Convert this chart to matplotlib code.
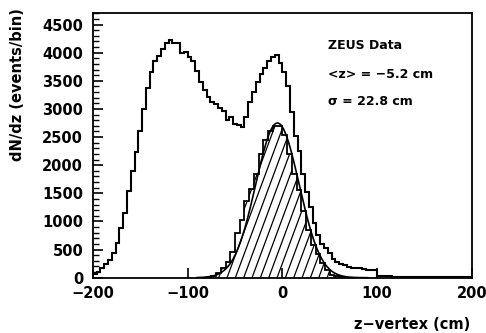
import numpy as np
import matplotlib.pyplot as plt
from matplotlib.ticker import MultipleLocator

# outer histogram: all vertices, 4 cm bins from -200 to 200
all_edges = np.arange(-200, 201, 4)
all_counts = [70, 110, 170, 250, 320, 440, 620, 880, 1150, 1550,
              1900, 2230, 2600, 3000, 3380, 3650, 3860, 3950, 4070, 4170,
              4230, 4180, 4170, 3990, 4010, 3920, 3850, 3680, 3480, 3340,
              3220, 3130, 3080, 3020, 2970, 2800, 2860, 2740, 2710, 2680,
              2850, 3120, 3300, 3480, 3620, 3720, 3850, 3920, 3960, 3820,
              3650, 3400, 2950, 2520, 2250, 1850, 1530, 1250, 980, 760,
              600, 520, 440, 340, 280, 250, 225, 195, 180, 170,
              165, 150, 140, 135, 130, 30, 26, 24, 22, 20,
              18, 17, 16, 15, 14, 13, 13, 12, 12, 11,
              11, 10, 10, 10, 9, 9, 9, 8, 8, 8]

# hatched histogram: selected vertices, 5 cm bins
sel_edges = np.arange(-80, 66, 5)
sel_counts = [15, 30, 80, 170, 284, 462, 790, 1030, 1370, 1580,
              1850, 2200, 2440, 2610, 2700, 2690, 2540, 2200, 1850, 1560,
              1180, 850, 590, 420, 256, 137, 55, 25, 10]

# gaussian fit shown in the box
fit_mean = -5.2
fit_sigma = 22.8
fit_amp = 2750

plt.rcParams['font.family'] = ['DejaVu Sans']
fig = plt.figure(figsize=(4.86, 3.33), dpi=100)
ax = fig.add_axes([0.191, 0.166, 0.780, 0.794])

ax.stairs(all_counts, all_edges, baseline=None, color='black', lw=1.5)
hpatch = ax.stairs(sel_counts, sel_edges, baseline=0, color='black', lw=1.3)

# steep hatching clipped to the selected histogram
for z0 in np.arange(-120, 80, 8.8):
    zz = np.array([z0, z0 + 80])
    ln, = ax.plot(zz, 45.4 * (zz - z0), color='black', lw=0.9)
    ln.set_clip_path(hpatch)

z = np.linspace(-90, 90, 400)
ax.plot(z, fit_amp * np.exp(-0.5 * ((z - fit_mean) / fit_sigma) ** 2),
        color='black', lw=1.2)

ax.set_xlim(-200, 200)
ax.set_ylim(0, 4700)
ax.set_xticks([-200, -100, 0, 100, 200])
ax.yaxis.set_major_locator(MultipleLocator(500))
ax.yaxis.set_minor_locator(MultipleLocator(100))
ax.tick_params(axis='y', which='major', direction='in', length=7, width=1.2,
               labelsize=10.5, pad=7, right=False)
ax.tick_params(axis='y', which='minor', direction='in', length=4, width=1.0,
               right=False)
ax.tick_params(axis='x', direction='in', length=7, width=1.2, labelsize=10.5,
               pad=6, top=False)
for lab in ax.get_xticklabels() + ax.get_yticklabels():
    lab.set_fontweight('bold')
for sp in ax.spines.values():
    sp.set_linewidth(1.3)

fig.text(0.037, 0.745, 'dN/dz (events/bin)', rotation=90, ha='center',
         va='center', fontsize=10.5, fontweight='bold')
fig.text(0.967, 0.025, 'z\u2212vertex (cm)', ha='right', va='center',
         fontsize=10.5, fontweight='bold')

ax.text(0.62, 0.88, 'ZEUS Data', transform=ax.transAxes, fontsize=9,
        fontweight='bold', va='center')
ax.text(0.62, 0.77, '<z> = \u22125.2 cm', transform=ax.transAxes, fontsize=9,
        fontweight='bold', va='center')
ax.text(0.62, 0.665, '\u03c3 = 22.8 cm', transform=ax.transAxes, fontsize=9,
        fontweight='bold', va='center')

fig.savefig('out.png', dpi=100)
